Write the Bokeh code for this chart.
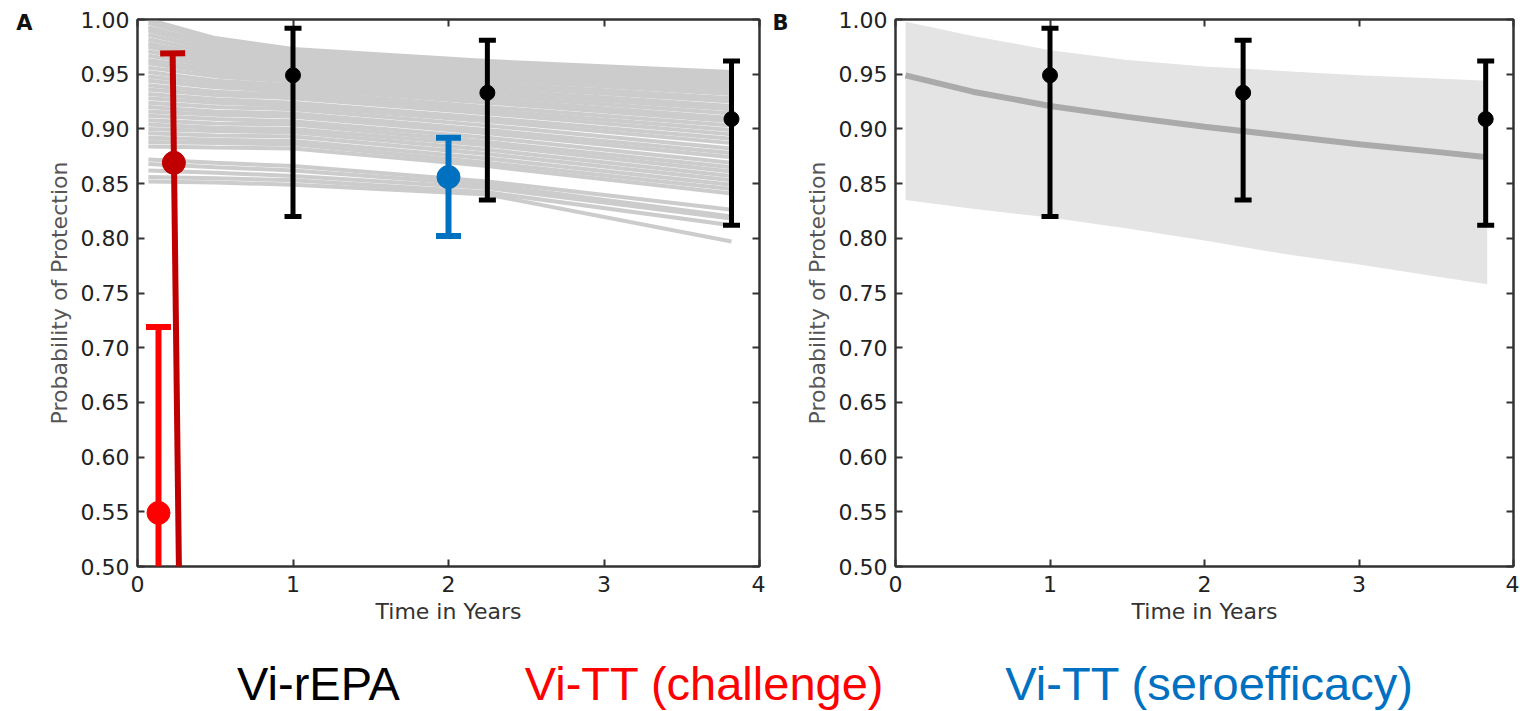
from bokeh.plotting import figure
from bokeh.models import (Range1d, LinearAxis, FixedTicker, PrintfTickFormatter, CustomJSTickFormatter,
                          Whisker, TeeHead, Arrow, ColumnDataSource)
from bokeh.layouts import column, row
from bokeh.core.properties import value
from bokeh.embed import file_html
from bokeh.resources import INLINE

# ---------------- data ----------------
x_ticks = [0, 1, 2, 3, 4]
y_ticks = [0.50, 0.55, 0.60, 0.65, 0.70, 0.75, 0.80, 0.85, 0.90, 0.95, 1.00]

# Vi-rEPA observed efficacy (black)
epa_t = [1.0, 2.25, 3.82]
epa_p = [0.949, 0.933, 0.909]
epa_lo = [0.820, 0.835, 0.812]
epa_hi = [0.992, 0.981, 0.962]

# Vi-TT challenge (bright red), lower bound clipped at axis
ch_t = [0.135]
ch_p = [0.549]
ch_lo = [0.500]
ch_hi = [0.719]

# Vi-TT challenge (dark red, tilted bar)
ch2_t_pt = [0.234]
ch2_p = [0.869]
ch2_t_hi = [0.226]
ch2_hi = [0.969]
ch2_t_lo = [0.268]
ch2_lo = [0.479]

# Vi-TT seroefficacy (blue)
sero_t = [2.0]
sero_p = [0.856]
sero_lo = [0.802]
sero_hi = [0.892]

# Panel A posterior curves (grey), values at each time point
g_time = [0.07, 0.5, 1.0, 2.25, 3.82]
g_v007 = [1.000, 0.997, 0.993, 0.990, 0.986, 0.982, 0.978, 0.975, 0.971, 0.967, 0.963, 0.960,
          0.956, 0.952, 0.948, 0.944, 0.940, 0.936, 0.932, 0.928, 0.924, 0.920, 0.916, 0.912,
          0.908, 0.904, 0.900, 0.896, 0.892, 0.888, 0.884, 0.872, 0.868, 0.862, 0.856, 0.852]
g_v05 = [0.983, 0.980, 0.977, 0.975, 0.972, 0.969, 0.966, 0.963, 0.960, 0.957, 0.954, 0.951,
         0.948, 0.944, 0.941, 0.938, 0.934, 0.931, 0.927, 0.924, 0.920, 0.916, 0.913, 0.909,
         0.905, 0.901, 0.898, 0.894, 0.890, 0.887, 0.883, 0.869, 0.865, 0.860, 0.855, 0.851]
g_v1 = [0.973, 0.971, 0.969, 0.967, 0.965, 0.962, 0.960, 0.957, 0.955, 0.952, 0.949, 0.946,
        0.943, 0.940, 0.937, 0.934, 0.931, 0.928, 0.924, 0.921, 0.918, 0.914, 0.911, 0.907,
        0.904, 0.900, 0.897, 0.893, 0.889, 0.886, 0.882, 0.866, 0.862, 0.857, 0.853, 0.849]
g_v225 = [0.962, 0.960, 0.958, 0.955, 0.953, 0.950, 0.948, 0.945, 0.942, 0.939, 0.936, 0.933,
          0.930, 0.927, 0.924, 0.920, 0.917, 0.914, 0.910, 0.907, 0.903, 0.899, 0.896, 0.892,
          0.888, 0.885, 0.881, 0.877, 0.873, 0.869, 0.866, 0.852, 0.849, 0.846, 0.842, 0.840]
g_v382 = [0.952, 0.949, 0.946, 0.944, 0.941, 0.938, 0.935, 0.932, 0.928, 0.925, 0.921, 0.918,
          0.914, 0.910, 0.907, 0.903, 0.899, 0.895, 0.891, 0.887, 0.882, 0.878, 0.874, 0.869,
          0.865, 0.861, 0.857, 0.853, 0.849, 0.845, 0.841, 0.826, 0.820, 0.818, 0.812, 0.797]

# Panel B fitted mean and credible band
b_time = [0.065, 0.5, 1.0, 1.5, 2.0, 2.5, 3.0, 3.5, 3.83]
b_upper = [0.998, 0.985, 0.972, 0.963, 0.957, 0.953, 0.949, 0.946, 0.944]
b_mean = [0.949, 0.934, 0.921, 0.911, 0.902, 0.894, 0.886, 0.879, 0.874]
b_lower = [0.835, 0.827, 0.819, 0.809, 0.798, 0.786, 0.776, 0.765, 0.758]

legend_names = ["Vi-rEPA", "Vi-TT (challenge)", "Vi-TT (seroefficacy)"]
legend_colors = ["#000000", "#FF0000", "#0070C0"]

# ---------------- styling ----------------
FONT = "DejaVu Sans"
TICK_SIZE = "22px"
FRAME = "#333333"
PANEL_H = 640


def style_panel(p, letter, letter_standoff):
    p.grid.visible = False
    p.background_fill_color = "white"
    p.border_fill_color = "white"
    p.outline_line_color = FRAME
    p.outline_line_width = 2
    p.xaxis.ticker = FixedTicker(ticks=x_ticks)
    p.yaxis.ticker = FixedTicker(ticks=y_ticks)
    p.yaxis.formatter = PrintfTickFormatter(format="%.2f")
    for ax in p.xaxis + p.yaxis:
        ax.axis_line_color = FRAME
        ax.axis_line_width = 2
        ax.major_tick_in = 7
        ax.major_tick_out = 0
        ax.major_tick_line_color = FRAME
        ax.major_tick_line_width = 2
        ax.minor_tick_in = 0
        ax.minor_tick_out = 0
        ax.major_label_text_font = FONT
        ax.major_label_text_font_size = TICK_SIZE
        ax.major_label_text_color = "#222222"
        ax.axis_label_text_font = FONT
        ax.axis_label_text_font_size = TICK_SIZE
        ax.axis_label_text_font_style = "normal"
    p.xaxis.major_label_standoff = 9
    p.yaxis.major_label_standoff = 8
    p.xaxis.axis_label = "Time in Years"
    p.xaxis.axis_label_standoff = 4
    p.xaxis.axis_label_text_color = "#333333"
    p.yaxis.axis_label = "Probability of Protection"
    p.yaxis.axis_label_standoff = 6
    p.yaxis.axis_label_text_color = "#555555"
    top = LinearAxis(ticker=FixedTicker(ticks=x_ticks))
    right = LinearAxis(ticker=FixedTicker(ticks=y_ticks))
    for ax in (top, right):
        ax.axis_line_color = FRAME
        ax.axis_line_width = 2
        ax.major_tick_in = 7
        ax.major_tick_out = 0
        ax.major_tick_line_color = FRAME
        ax.major_tick_line_width = 2
        ax.minor_tick_in = 0
        ax.minor_tick_out = 0
        ax.formatter = CustomJSTickFormatter(code="return ''")
        ax.major_label_standoff = 0
    p.add_layout(top, "above")
    p.add_layout(right, "right")
    # panel letter, placed as the single label of an outer, line-less axis
    lab = LinearAxis(ticker=FixedTicker(ticks=[0.997]),
                     formatter=CustomJSTickFormatter(code="return '%s'" % letter),
                     axis_line_color=None, major_tick_line_color=None, minor_tick_line_color=None,
                     major_label_standoff=letter_standoff, major_label_text_font=FONT,
                     major_label_text_font_size="21px", major_label_text_font_style="bold",
                     major_label_text_color="#111111")
    p.add_layout(lab, "left")


def add_errorbars(p, src, color, lw, cap, lower_cap=True):
    w = Whisker(source=src, base="t", upper="hi", lower="lo", dimension="height",
                line_color=color, line_width=lw, level="overlay",
                upper_head=TeeHead(size=cap, line_color=color, line_width=lw),
                lower_head=TeeHead(size=cap, line_color=color, line_width=lw) if lower_cap else None)
    p.add_layout(w)


# ---------------- Panel A ----------------
pA = figure(width=765, height=PANEL_H, x_range=Range1d(0, 4), y_range=Range1d(0.5, 1.0),
            output_backend="svg", toolbar_location=None,
            min_border_left=137, min_border_right=6, min_border_top=19, min_border_bottom=74)
style_panel(pA, "A", 5)

gx = [g_time for _ in g_v007]
gy = [list(v) for v in zip(g_v007, g_v05, g_v1, g_v225, g_v382)]
pA.multi_line(xs=gx, ys=gy, line_color="#CCCCCC", line_width=4)

epa_src = ColumnDataSource(dict(t=epa_t, p=epa_p, lo=epa_lo, hi=epa_hi))
add_errorbars(pA, epa_src, "#000000", 5, 17)
pA.scatter(x="t", y="p", source=epa_src, size=15, color="#000000", level="overlay")

sero_src = ColumnDataSource(dict(t=sero_t, p=sero_p, lo=sero_lo, hi=sero_hi))
add_errorbars(pA, sero_src, "#0070C0", 6, 25)
pA.scatter(x="t", y="p", source=sero_src, size=23, color="#0070C0", level="overlay")

ch_src = ColumnDataSource(dict(t=ch_t, p=ch_p, lo=ch_lo, hi=ch_hi))
add_errorbars(pA, ch_src, "#FF0000", 6, 25, lower_cap=False)
pA.scatter(x="t", y="p", source=ch_src, size=23, color="#FF0000", level="overlay")

ch2_bar = ColumnDataSource(dict(x0=ch2_t_hi, y0=ch2_hi, x1=ch2_t_lo, y1=ch2_lo))
pA.add_layout(Arrow(source=ch2_bar, x_start="x0", y_start="y0", x_end="x1", y_end="y1",
                    line_color="#C00000", line_width=6, level="overlay",
                    start=TeeHead(size=25, line_color="#C00000", line_width=6),
                    end=TeeHead(size=25, line_color="#C00000", line_width=6)))
pA.scatter(x=ch2_t_pt, y=ch2_p, size=23, color="#C00000", level="overlay")

# ---------------- Panel B ----------------
pB = figure(width=754, height=PANEL_H, x_range=Range1d(0, 4), y_range=Range1d(0.5, 1.0),
            output_backend="svg", toolbar_location=None,
            min_border_left=130, min_border_right=6, min_border_top=19, min_border_bottom=74)
style_panel(pB, "B", 7)
pB.varea(x=b_time, y1=b_lower, y2=b_upper, fill_color="#E4E4E4")
pB.line(x=b_time, y=b_mean, line_color="#AAAAAA", line_width=6)
epa_src_b = ColumnDataSource(dict(t=epa_t, p=epa_p, lo=epa_lo, hi=epa_hi))
add_errorbars(pB, epa_src_b, "#000000", 5, 17)
pB.scatter(x="t", y="p", source=epa_src_b, size=15, color="#000000", level="overlay")

# ---------------- bottom legend strip ----------------
leg = figure(width=1519, height=70, x_range=Range1d(0, 1519), y_range=Range1d(0, 70),
             output_backend="svg", toolbar_location=None,
             x_axis_type=None, y_axis_type=None, min_border=0)
leg.grid.visible = False
leg.outline_line_color = None
leg_src = ColumnDataSource(dict(x=[318, 704, 1209], y=[27, 27, 27], text=legend_names, c=legend_colors))
leg.text(x="x", y="y", text="text", text_color="c", source=leg_src, text_align="center",
         text_baseline="middle", text_font=value("Liberation Sans"), text_font_size="47px",
         level="overlay")

layout = column(row(pA, pB), leg)
open("out.html", "w").write(file_html(layout, INLINE))
